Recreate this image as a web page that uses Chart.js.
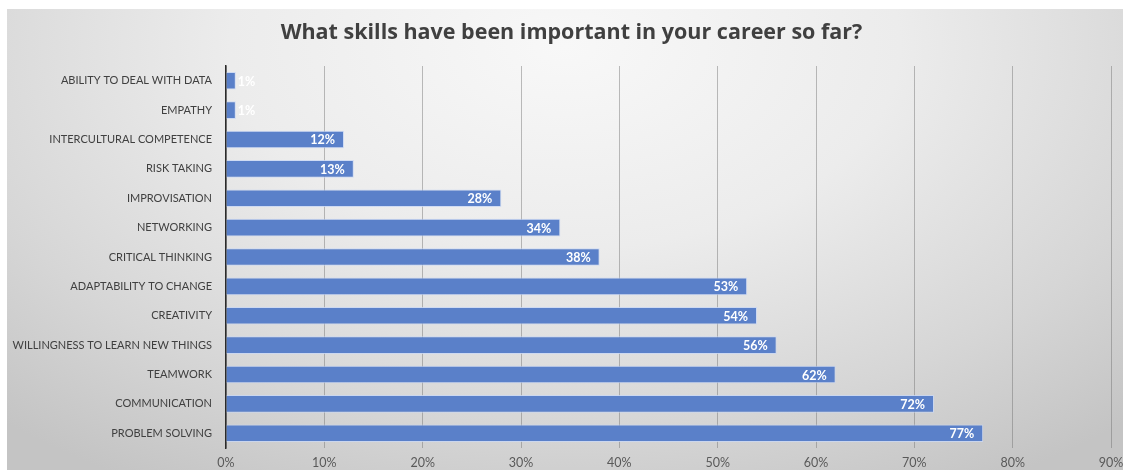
<!DOCTYPE html>
<html>
<head>
<meta charset="utf-8">
<script src="https://cdn.jsdelivr.net/npm/chart.js@4/dist/chart.umd.min.js"></script>
<style>
  html, body { margin: 0; padding: 0; background: #ffffff; }
  #wrap { position: relative; width: 1123px; height: 470px; overflow: hidden; }
  #panel {
    position: absolute; left: 7px; top: 9px; right: 0; bottom: 0;
    background: radial-gradient(ellipse 75% 110% at 50% 8%, #f8f8f8 0%, #ececec 40%, #d6d6d6 75%, #c4c4c4 100%);
  }
  #chart { position: absolute; left: 0; top: 0; }
</style>
</head>
<body>
<div id="wrap">
  <div id="panel"></div>
  <canvas id="chart" width="1123" height="470"></canvas>
</div>
<script>
const titleText = 'What skills have been important in your career so far?';

const skills = [
  'ABILITY TO DEAL WITH DATA',
  'EMPATHY',
  'INTERCULTURAL COMPETENCE',
  'RISK TAKING',
  'IMPROVISATION',
  'NETWORKING',
  'CRITICAL THINKING',
  'ADAPTABILITY TO CHANGE',
  'CREATIVITY',
  'WILLINGNESS TO LEARN NEW THINGS',
  'TEAMWORK',
  'COMMUNICATION',
  'PROBLEM SOLVING'
];

const shares = [1, 1, 12, 13, 28, 34, 38, 53, 54, 56, 62, 72, 77];

const axisMax = 90;
const axisStep = 10;

const FONT = 'Lato, "Open Sans", "Liberation Sans", sans-serif';
const TITLE_FONT = '"Open Sans", Lato, sans-serif';

// Heading across the top of the panel.
const heading = {
  id: 'heading',
  afterDraw(chart) {
    const ctx = chart.ctx;
    ctx.save();
    ctx.font = 'bold 21.5px ' + TITLE_FONT;
    ctx.fillStyle = '#404040';
    ctx.textAlign = 'center';
    ctx.textBaseline = 'middle';
    ctx.fillText(titleText, chart.width / 2 + 10, 33);
    ctx.restore();
  }
};

// Writes each bar's percentage just inside its end, or just past it when the bar is too short.
const valueLabels = {
  id: 'valueLabels',
  afterDatasetsDraw(chart) {
    const ctx = chart.ctx;
    const meta = chart.getDatasetMeta(0);
    ctx.save();
    ctx.font = 'bold 12.5px ' + FONT;
    ctx.fillStyle = '#ffffff';
    ctx.textBaseline = 'middle';
    meta.data.forEach((bar, i) => {
      const txt = shares[i] + '%';
      const w = ctx.measureText(txt).width;
      const len = bar.x - bar.base;
      if (len > w + 14) {
        ctx.textAlign = 'right';
        ctx.fillText(txt, bar.x - 9, bar.y + 1);
      } else {
        ctx.textAlign = 'left';
        ctx.fillText(txt, bar.x + 2, bar.y + 1);
      }
    });
    ctx.restore();
  }
};

new Chart(document.getElementById('chart'), {
  type: 'bar',
  data: {
    labels: skills,
    datasets: [{
      data: shares,
      backgroundColor: '#5a80c9',
      borderColor: 'rgba(200,215,245,0.8)',
      borderWidth: 1,
      borderSkipped: 'start',
      categoryPercentage: 1,
      barPercentage: 0.6
    }]
  },
  options: {
    indexAxis: 'y',
    responsive: false,
    animation: false,
    layout: { padding: { left: 0, right: 12, top: 66, bottom: 0 } },
    plugins: {
      legend: { display: false },
      tooltip: { enabled: false },
      title: { display: false }
    },
    scales: {
      x: {
        min: 0,
        max: axisMax,
        afterFit: s => { s.height = 22; s.paddingLeft = 0; s.paddingRight = 0; },
        ticks: {
          stepSize: axisStep,
          padding: 7,
          color: '#595959',
          font: { family: FONT, size: 12.5 },
          callback: v => v + '%'
        },
        grid: {
          drawTicks: false,
          color: 'rgba(110,110,110,0.45)',
          lineWidth: 1
        },
        border: { display: false }
      },
      y: {
        afterFit: s => { s.width = 226; s.paddingTop = 0; s.paddingBottom = 0; },
        ticks: {
          padding: 14,
          color: '#404040',
          font: { family: FONT, size: 11 }
        },
        grid: { display: false, drawTicks: false },
        border: { display: true, color: '#2a2a2a', width: 1.5 }
      }
    }
  },
  plugins: [valueLabels, heading]
});
</script>
</body>
</html>
